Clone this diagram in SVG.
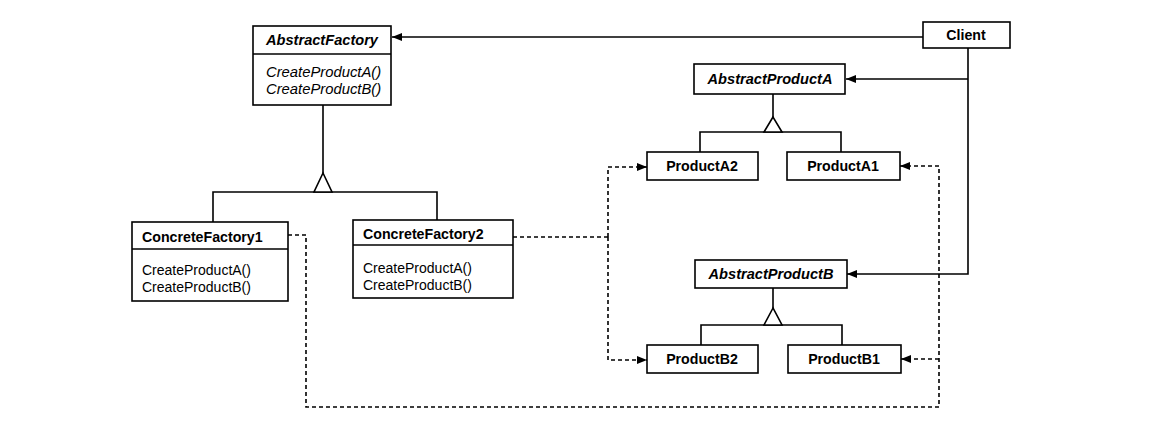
<svg xmlns="http://www.w3.org/2000/svg" width="1162" height="430" viewBox="0 0 1162 430">
<defs>
<style>
.box{fill:#fff;stroke:#000;stroke-width:1.6}
.ln{fill:none;stroke:#000;stroke-width:1.6}
.dash{fill:none;stroke:#000;stroke-width:1.6;stroke-dasharray:4 3}
.tri{fill:#fff;stroke:#000;stroke-width:1.6;stroke-linejoin:miter}
text{font-family:"Liberation Sans",Arial,sans-serif;font-size:14px;fill:#000}
.b{font-weight:bold;font-size:14.2px}
.bi{font-weight:bold;font-style:italic;font-size:14.6px}
.i{font-style:italic;font-size:14.8px}
.c{text-anchor:middle}
</style>
<marker id="arr" viewBox="0 0 10 8" refX="10" refY="4" markerWidth="10" markerHeight="8" markerUnits="userSpaceOnUse" orient="auto">
<path d="M0,0 L10,4 L0,8 z" fill="#000"/>
</marker>
</defs>
<rect width="1162" height="430" fill="#fff"/>
<g id="connectors">
<path class="ln" d="M923,37 H392" marker-end="url(#arr)"/>
<path class="ln" d="M968,48 V274 H847" marker-end="url(#arr)"/>
<path class="ln" d="M968,79 H846" marker-end="url(#arr)"/>
<path class="ln" d="M323,105 V173 M213,222 V192 H437 V220"/>
<polygon class="tri" points="323,173 314,192 332,192"/>
<path class="ln" d="M773,94 V117 M700,152 V132 H841 V152"/>
<polygon class="tri" points="773,117 764,132 782,132"/>
<path class="ln" d="M773,288 V308 M701,345 V325 H842 V345"/>
<polygon class="tri" points="773,308 764,325 782,325"/>
<path class="dash" d="M513,237 H608"/>
<path class="dash" d="M608,237 V167 H647" marker-end="url(#arr)"/>
<path class="dash" d="M608,237 V360 H647" marker-end="url(#arr)"/>
<path class="dash" d="M288,235 H306 V407 H939 V166 H900" marker-end="url(#arr)"/>
<path class="dash" d="M939,359 H901" marker-end="url(#arr)"/>
</g>
<g id="AbstractFactory">
<rect class="box" x="253" y="26" width="138" height="79"/>
<line class="ln" x1="253" y1="54" x2="391" y2="54"/>
<text class="bi c" x="322" y="45">AbstractFactory</text>
<text class="i" x="266" y="77">CreateProductA()</text>
<text class="i" x="266" y="94">CreateProductB()</text>
</g>
<g id="Client">
<rect class="box" x="923" y="22" width="87" height="26"/>
<text class="b c" x="966" y="40">Client</text>
</g>
<g id="ConcreteFactory1">
<rect class="box" x="132" y="222" width="156" height="79"/>
<line class="ln" x1="132" y1="249" x2="288" y2="249"/>
<text class="b" x="142" y="242">ConcreteFactory1</text>
<text x="142" y="275">CreateProductA()</text>
<text x="142" y="292">CreateProductB()</text>
</g>
<g id="ConcreteFactory2">
<rect class="box" x="353" y="220" width="160" height="78"/>
<line class="ln" x1="353" y1="245" x2="513" y2="245"/>
<text class="b" x="363" y="239">ConcreteFactory2</text>
<text x="363" y="273">CreateProductA()</text>
<text x="363" y="290">CreateProductB()</text>
</g>
<g id="AbstractProductA">
<rect class="box" x="694" y="64" width="151" height="30"/>
<text class="bi c" x="770" y="84">AbstractProductA</text>
</g>
<g id="ProductA2">
<rect class="box" x="647" y="152" width="111" height="28"/>
<text class="b c" x="702" y="171">ProductA2</text>
</g>
<g id="ProductA1">
<rect class="box" x="787" y="152" width="113" height="28"/>
<text class="b c" x="843" y="171">ProductA1</text>
</g>
<g id="AbstractProductB">
<rect class="box" x="695" y="260" width="152" height="28"/>
<text class="bi c" x="771" y="279">AbstractProductB</text>
</g>
<g id="ProductB2">
<rect class="box" x="647" y="345" width="111" height="28"/>
<text class="b c" x="702" y="364">ProductB2</text>
</g>
<g id="ProductB1">
<rect class="box" x="788" y="345" width="113" height="28"/>
<text class="b c" x="844" y="364">ProductB1</text>
</g>
</svg>
